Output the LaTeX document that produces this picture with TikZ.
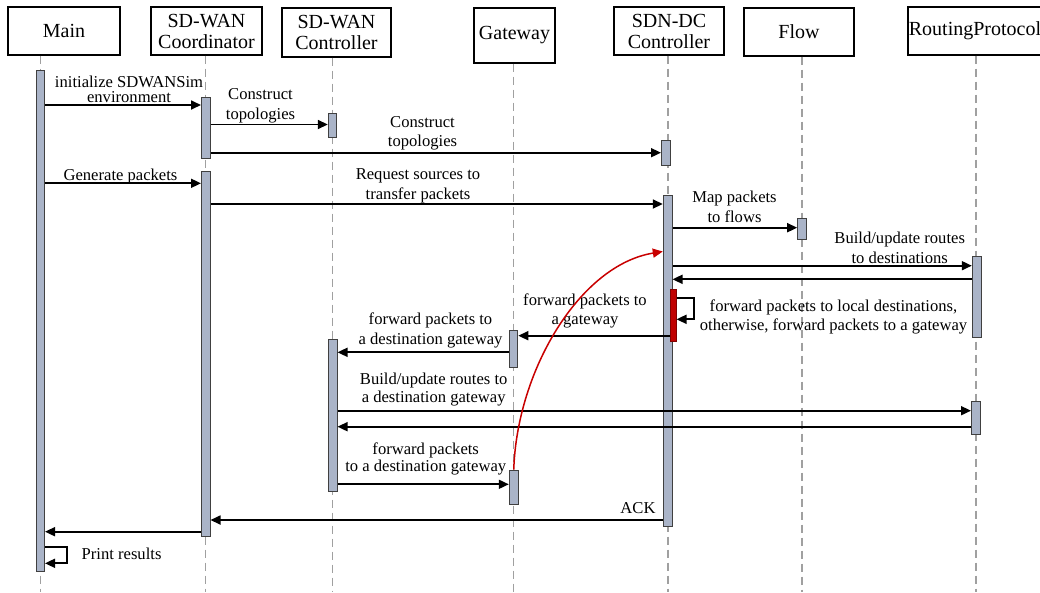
\documentclass[tikz,border=0pt]{standalone}
\usepackage{fontspec}
\setmainfont{Liberation Serif}
\usetikzlibrary{arrows.meta,fit}
\definecolor{barfill}{RGB}{170,180,200}
\definecolor{lifegray}{RGB}{160,160,160}
\definecolor{flowred}{RGB}{200,0,0}
\definecolor{redbarfill}{RGB}{192,0,0}
\tikzset{
  hdr/.style={draw, line width=1.4pt, inner sep=0pt, align=center, font=\fontsize{20}{21}\selectfont},
  life/.style={draw=lifegray, line width=1.2pt, dash pattern=on 8pt off 5pt},
  actbar/.style={draw=black!75, line width=1pt, fill=barfill, inner sep=0pt},
  redbar/.style={draw=black!50!red, line width=1pt, fill=redbarfill, inner sep=0pt},
  msg/.style={draw, line width=1.7pt, -{Triangle[length=10pt,width=9pt]}},
  redmsg/.style={draw=flowred, line width=1.5pt, -{Triangle[length=10pt,width=9pt]}},
  lbl/.style={font=\fontsize{16.6}{19.5}\selectfont, align=center, inner sep=0pt, anchor=south, yshift=-2.5pt},
  plain/.style={font=\fontsize{16.6}{19.5}\selectfont, inner sep=0pt},
}
\begin{document}
\begin{tikzpicture}[x=1pt,y=-1pt]
\useasboundingbox (0,0) rectangle (1040,592);

% participant headers
\node[hdr, minimum width=112pt, minimum height=48pt] (main) at (64,31) {Main};
\node[hdr, minimum width=111pt, minimum height=48pt] (coord) at (206.5,31) {SD-WAN\\Coordinator};
\node[hdr, minimum width=109pt, minimum height=49pt] (ctrl) at (336.5,32.5) {SD-WAN\\Controller};
\node[hdr, minimum width=81pt, minimum height=55pt] (gw) at (514.5,35.5) {Gateway};
\node[hdr, minimum width=110pt, minimum height=48pt] (sdn) at (669,31) {SDN-DC\\Controller};
\node[hdr, minimum width=110pt, minimum height=48pt] (flow) at (799,32) {Flow};
\node[hdr, minimum width=134pt, minimum height=48pt] (rp) at (975,31) {RoutingProtocol};

% lifelines
\foreach \n/\x in {main/40.5, coord/205.8, ctrl/332.7, gw/513.5, sdn/668, flow/802, rp/976} {
  \coordinate (\n-l) at (\x,0);
  \draw[life] (\n-l |- \n.south) -- (\n-l |- 0,592);
}

% activation bars
\node[actbar, fit={(36.5,70) (44.5,571.5)}] (mb) {};
\node[actbar, fit={(201.5,97.3) (210,158.3)}] (cb1) {};
\node[actbar, fit={(201.5,171.7) (210,536.7)}] (cb2) {};
\node[actbar, fit={(328.3,113.3) (336.7,137.3)}] (kb1) {};
\node[actbar, fit={(328.3,339.3) (337,491)}] (kb2) {};
\node[actbar, fit={(509.2,330) (517.8,367.7)}] (gb1) {};
\node[actbar, fit={(509.3,470) (518.2,504.3)}] (gb2) {};
\node[actbar, fit={(661.5,140.7) (670.7,165)}] (sb1) {};
\node[actbar, fit={(663.3,195) (672,526)}] (sb2) {};
\node[redbar, fit={(670.5,289) (676,341.7)}] (rb) {};
\node[actbar, fit={(797.7,218.5) (806.7,239)}] (fb) {};
\node[actbar, fit={(972.3,256.7) (981.5,337.3)}] (pb1) {};
\node[actbar, fit={(971.5,401) (980.5,434.3)}] (pb2) {};

% messages
\draw[msg] (mb.east |- 0,105) -- (cb1.west |- 0,105);
\draw[msg] (cb1.east |- 0,124.5) -- (kb1.west |- 0,124.5);
\draw[msg] (cb1.east |- 0,152.7) -- (sb1.west |- 0,152.7);
\draw[msg] (mb.east |- 0,183.3) -- (cb2.west |- 0,183.3);
\draw[msg] (cb2.east |- 0,204) -- (sb2.west |- 0,204);
\draw[msg] (sb2.east |- 0,227.7) -- (fb.west |- 0,227.7);
\draw[msg] (sb2.east |- 0,265.7) -- (pb1.west |- 0,265.7);
\draw[msg] (pb1.west |- 0,279.3) -- (sb2.east |- 0,279.3);
\draw[msg] (rb.east |- 0,297.7) -- ++(17.3,0) |- (rb.east |- 0,319.3);
\draw[msg] (rb.west |- 0,335.7) -- (gb1.east |- 0,335.7);
\draw[msg] (gb1.west |- 0,352.3) -- (kb2.east |- 0,352.3);
\draw[msg] (kb2.east |- 0,410.7) -- (pb2.west |- 0,410.7);
\draw[msg] (pb2.west |- 0,426.7) -- (kb2.east |- 0,426.7);
\draw[msg] (kb2.east |- 0,484.3) -- (gb2.west |- 0,484.3);
\draw[msg] (sb2.west |- 0,520) -- (cb2.east |- 0,520);
\draw[msg] (cb2.west |- 0,531.7) -- (mb.east |- 0,531.7);
\draw[msg] (mb.east |- 0,546.7) -- ++(22,0) |- (mb.east |- 0,563.3);

% message labels
\node[lbl] (t1) at (129,105.9) {initialize SDWANSim\\[-4.5pt]environment\strut};
\node[lbl] (t2) at (260.5,123) {Construct\\topologies\strut};
\node[lbl] (t3) at (422.5,150.3) {Construct\\topologies\strut};
\node[lbl] (t4) at (120.5,183.8) {Generate packets\strut};
\node[lbl] (t5) at (418,202.8) {Request sources to\\transfer packets\strut};
\node[lbl] (t6) at (734.5,225.9) {Map packets\\to flows\strut};
\node[lbl] (t7) at (899.7,266.9) {Build/update routes\\to destinations\strut};
\node[lbl] (t8) at (833.5,334.1) {forward packets to local destinations,\\otherwise, forward packets to a gateway\strut};
\node[lbl] (t9) at (585,328.5) {forward packets to\\a gateway\strut};
\node[lbl] (t10) at (430.5,347.9) {forward packets to\\a destination gateway\strut};
\node[lbl] (t11) at (433.7,406.4) {Build/update routes to\\[-1.5pt]a destination gateway\strut};
\node[lbl] (t12) at (425.7,474.9) {forward packets\\[-3pt]to a destination gateway\strut};
\node[plain, anchor=base east] (t13) at (655.7,513.3) {ACK};
\node[plain, anchor=base west] (t14) at (81.5,559) {Print results};

% red hand-off from the gateway back to the SDN-DC controller
\draw[redmsg] (gb2.north) .. controls (517,370) and (580,265) .. (sb2.west |- 0,251.5);
\end{tikzpicture}
\end{document}
